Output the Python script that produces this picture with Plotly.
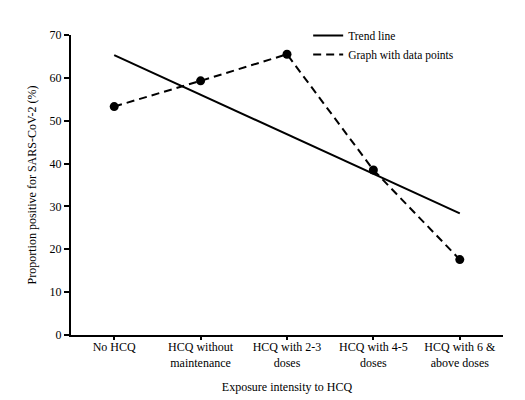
import plotly.graph_objects as go

categories = ["No HCQ", "HCQ without<br>maintenance", "HCQ with 2-3<br>doses",
              "HCQ with 4-5<br>doses", "HCQ with 6 &<br>above doses"]
data_values = [53.3, 59.3, 65.5, 38.5, 17.6]
trend_categories = [categories[0], categories[-1]]
trend_values = [65.3, 28.4]
y_ticks = [0, 10, 20, 30, 40, 50, 60, 70]

font_family = "Liberation Serif, Times New Roman, serif"
dash_style = "8px,5px"

fig = go.Figure()
fig.add_trace(go.Scatter(
    x=trend_categories, y=trend_values, mode="lines",
    line=dict(color="black", width=2), name="Trend line"))
fig.add_trace(go.Scatter(
    x=categories, y=data_values, mode="lines+markers",
    line=dict(color="black", width=2, dash=dash_style),
    marker=dict(color="black", size=9), name="Graph with data points",
    showlegend=False))
# legend entry (line only, as in the reference)
fig.add_trace(go.Scatter(
    x=[None], y=[None], mode="lines",
    line=dict(color="black", width=2, dash=dash_style),
    name="Graph with data points"))

# the page body adds an 8px margin, so the figure is sized to fit the window
fig.update_layout(
    width=517, height=392,
    margin=dict(l=63, r=22, t=27, b=65, autoexpand=False),
    paper_bgcolor="white", plot_bgcolor="white",
    font=dict(family=font_family, size=12, color="black"),
    showlegend=True,
    legend=dict(x=0.549, y=1.047, xanchor="left", yanchor="top",
                bgcolor="rgba(0,0,0,0)", font=dict(size=11.5),
                itemwidth=30, tracegroupgap=0),
)
fig.update_xaxes(
    type="category", categoryorder="array", categoryarray=categories,
    range=[-0.5, 4.5], showline=True, linecolor="black", linewidth=2,
    ticks="outside", ticklen=3, tickwidth=1.5, tickcolor="black",
    showgrid=False, zeroline=False, tickfont=dict(size=12),
    ticklabelstandoff=-3, automargin=False,
    title=dict(text="Exposure intensity to HCQ", font=dict(size=12), standoff=14))
fig.update_yaxes(
    range=[0, 70], tickvals=y_ticks, showline=True, linecolor="black", linewidth=2,
    ticks="outside", ticklen=5, tickwidth=1.5, tickcolor="black",
    showgrid=False, zeroline=False, tickfont=dict(size=12), automargin=False,
    title=dict(text="Proportion positive for SARS-CoV-2 (%)", font=dict(size=12), standoff=10))

fig.write_html("out.html")
